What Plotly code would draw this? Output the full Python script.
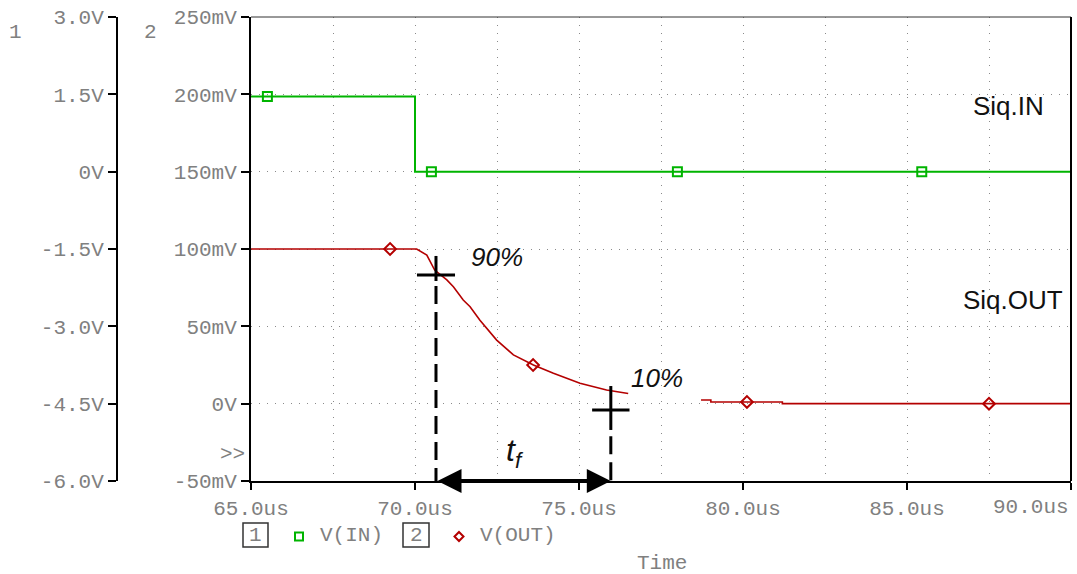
import plotly.graph_objects as go

# ---- waveform data -------------------------------------------------------
# V(IN): input step, plotted against the volt axis (axis 1)
t_in = [65.0, 70.0, 70.0, 90.0]            # us
v_in = [1.46, 1.46, 0.0, 0.0]              # V

# V(OUT): output fall, plotted against the millivolt axis (axis 2)
t_out = [65.0, 70.05, 70.36, 70.6, 70.97, 71.17, 71.47, 71.68, 71.98, 72.49,
         73.0, 73.61, 74.22, 75.03, 75.84, 76.25, 76.5,
         None,
         78.72, 79.02, 79.02, 81.2, 81.2, 90.0]
v_out = [100.0, 100.0, 96.1, 86.4, 80.0, 75.6, 67.0, 62.7, 54.0, 41.1,
         31.5, 25.0, 19.6, 13.2, 8.8, 7.6, 6.6,
         None,
         2.4, 2.4, 1.1, 1.1, 0.0, 0.0]

# trace symbols
t_in_mk = [65.5, 70.5, 78.0, 85.45]
v_in_mk = [1.46, 0.0, 0.0, 0.0]
t_out_mk = [69.24, 73.6, 80.12, 87.5]
v_out_mk = [100.0, 25.0, 1.1, 0.0]

# axis ticks
x_ticks = [65, 70, 75, 80, 85, 90]
x_labels = ["65.0us", "70.0us", "75.0us", "80.0us", "85.0us", "90.0us"]
x_minor = [67.5, 72.5, 77.5, 82.5, 87.5]
mv_ticks = [-50, 0, 50, 100, 150, 200, 250]
mv_labels = ["-50mV", "0V", "50mV", "100mV", "150mV", "200mV", "250mV"]
v_ticks = [-6.0, -4.5, -3.0, -1.5, 0.0, 1.5, 3.0]
v_labels = ["-6.0V", "-4.5V", "-3.0V", "-1.5V", "0V", "1.5V", "3.0V"]

# fall-time measurement (us, mV)
t90, v90 = 70.64, 83.2
t10, v10 = 75.97, -4.1

# ---- layout geometry -----------------------------------------------------
W, H = 1077, 574
X0, X1 = 251 / W, 1071 / W
Y0, Y1 = 1 - 481 / H, 1 - 17 / H
AX1_POS = 117 / W

GREEN = "#00b400"
RED = "#b40000"
GRAY = "#808080"
MONO = "Liberation Mono"
SANS = "Liberation Sans"


def px(x):
    return x / W


def py(y):
    return 1 - y / H


fig = go.Figure()

fig.add_trace(go.Scatter(x=t_in, y=v_in, yaxis="y2", mode="lines",
                         line=dict(color=GREEN, width=2), showlegend=False))
fig.add_trace(go.Scatter(x=t_in_mk, y=v_in_mk, yaxis="y2", mode="markers",
                         marker=dict(symbol="square-open", size=9, color=GREEN,
                                     line=dict(width=2, color=GREEN)),
                         showlegend=False))
fig.add_trace(go.Scatter(x=t_out, y=v_out, yaxis="y", mode="lines",
                         line=dict(color=RED, width=1.6), showlegend=False))
fig.add_trace(go.Scatter(x=t_out_mk, y=v_out_mk, yaxis="y", mode="markers",
                         marker=dict(symbol="diamond-open", size=9, color=RED,
                                     line=dict(width=2, color=RED)),
                         showlegend=False))

grid = dict(gridcolor="#8a8a8a", griddash="1px,7px", gridwidth=1)
tickfont = dict(family=MONO, size=21, color=GRAY)

# the last time label sits flush with the right frame, so it is drawn separately
axis_x_text = x_labels[:-1] + [""]

fig.update_layout(
    width=W, height=H,
    margin=dict(l=0, r=0, t=0, b=0, autoexpand=False),
    paper_bgcolor="white", plot_bgcolor="white",
    xaxis=dict(domain=[X0, X1], range=[65, 90], tickvals=x_ticks, ticktext=axis_x_text,
               showline=True, linewidth=2, linecolor="black",
               ticks="outside", ticklen=7, tickwidth=2, tickcolor="black",
               tickfont=tickfont, zeroline=False, showgrid=True, **grid,
               ticklabeloverflow="allow", automargin=False,
               minor=dict(tickvals=x_minor, showgrid=True, ticklen=0, **grid)),
    yaxis=dict(domain=[Y0, Y1], range=[-50, 250], tickvals=mv_ticks, ticktext=mv_labels,
               showline=True, linewidth=2, linecolor="black",
               ticks="outside", ticklen=8, tickwidth=2, tickcolor="black",
               tickfont=tickfont, zeroline=False, showgrid=True, automargin=False, **grid),
    yaxis2=dict(overlaying="y", anchor="free", position=AX1_POS, side="left",
                range=[-6, 3], tickvals=v_ticks, ticktext=v_labels,
                showline=True, linewidth=2, linecolor="black",
                ticks="outside", ticklen=8, tickwidth=2, tickcolor="black",
                tickfont=tickfont, zeroline=False, showgrid=False, automargin=False),
)

shapes = []
# frame: top and right edges
shapes.append(dict(type="line", xref="paper", yref="paper", x0=X0, x1=X1, y0=Y1, y1=Y1,
                   line=dict(color="#333", width=1)))
shapes.append(dict(type="line", xref="paper", yref="paper", x0=X1, x1=X1, y0=Y0, y1=Y1,
                   line=dict(color="black", width=2)))

# 90 % and 10 % cursors
blk = dict(color="black", width=3)
dash = dict(color="black", width=3, dash="18px,8px")
shapes += [
    dict(type="line", xref="x", yref="y", x0=t90 - 0.58, x1=t90 + 0.58, y0=v90, y1=v90, line=blk),
    dict(type="line", xref="x", yref="y", x0=t90, x1=t90, y0=95.5, y1=79.3, line=blk),
    dict(type="line", xref="x", yref="y", x0=t90, x1=t90, y0=76.0, y1=-50, line=dash),
    dict(type="line", xref="x", yref="y", x0=t10 - 0.57, x1=t10 + 0.57, y0=v10, y1=v10, line=blk),
    dict(type="line", xref="x", yref="y", x0=t10, x1=t10, y0=11.4, y1=-17.0, line=blk),
    dict(type="line", xref="x", yref="y", x0=t10, x1=t10, y0=-21.0, y1=-50, line=dash),
]

# legend boxes and symbols below the axis
for bx0, bx1 in [(243, 268), (403, 429)]:
    shapes.append(dict(type="rect", xref="paper", yref="paper",
                       x0=px(bx0), x1=px(bx1), y0=py(547), y1=py(523),
                       line=dict(color="#333", width=1.5)))
shapes.append(dict(type="rect", xref="paper", yref="paper",
                   x0=px(295), x1=px(303), y0=py(540.5), y1=py(532.5),
                   line=dict(color=GREEN, width=2)))
cx, cy = 459, 536.5
shapes.append(dict(type="path", xref="paper", yref="paper",
                   path=f"M {px(cx)} {py(cy - 4.5)} L {px(cx + 4.5)} {py(cy)} "
                        f"L {px(cx)} {py(cy + 4.5)} L {px(cx - 4.5)} {py(cy)} Z",
                   line=dict(color=RED, width=2)))
fig.update_layout(shapes=shapes)

ann = []
# fall-time arrow
ann.append(dict(x=t10, y=-50, ax=t90, ay=-50, xref="x", yref="y", axref="x", ayref="y",
                text="", showarrow=True, arrowhead=2, arrowside="end+start",
                arrowwidth=4, arrowsize=1.2, arrowcolor="black"))


def label(x, y, text, font, xanchor="center"):
    ann.append(dict(x=px(x), y=py(y), xref="paper", yref="paper", text=text,
                    showarrow=False, font=font, xanchor=xanchor, yanchor="middle"))


mono = dict(family=MONO, size=21, color=GRAY)
label(1071, 508, x_labels[-1], mono, "right")
label(15, 33, "1", mono)
label(150, 33, "2", mono)
label(232, 454, ">>", mono)
label(255.5, 535, "1", mono)
label(416, 535, "2", mono)
label(318, 535, "V(IN)", mono, "left")
label(478, 535, "V(OUT)", mono, "left")
label(662, 563, "Time", mono)

italic = dict(family=SANS, size=26, color="#111")
label(497, 257, "<i>90%</i>", italic)
label(657, 378, "<i>10%</i>", italic)
label(515, 452, "<i>t<sub>f</sub></i>", dict(family=SANS, size=32, color="#111"))
sans = dict(family=SANS, size=26, color="#111")
label(1008, 106, "Siq.IN", sans)
label(1013, 300, "Siq.OUT", sans)

fig.update_layout(annotations=ann)

fig.write_html("out.html")
